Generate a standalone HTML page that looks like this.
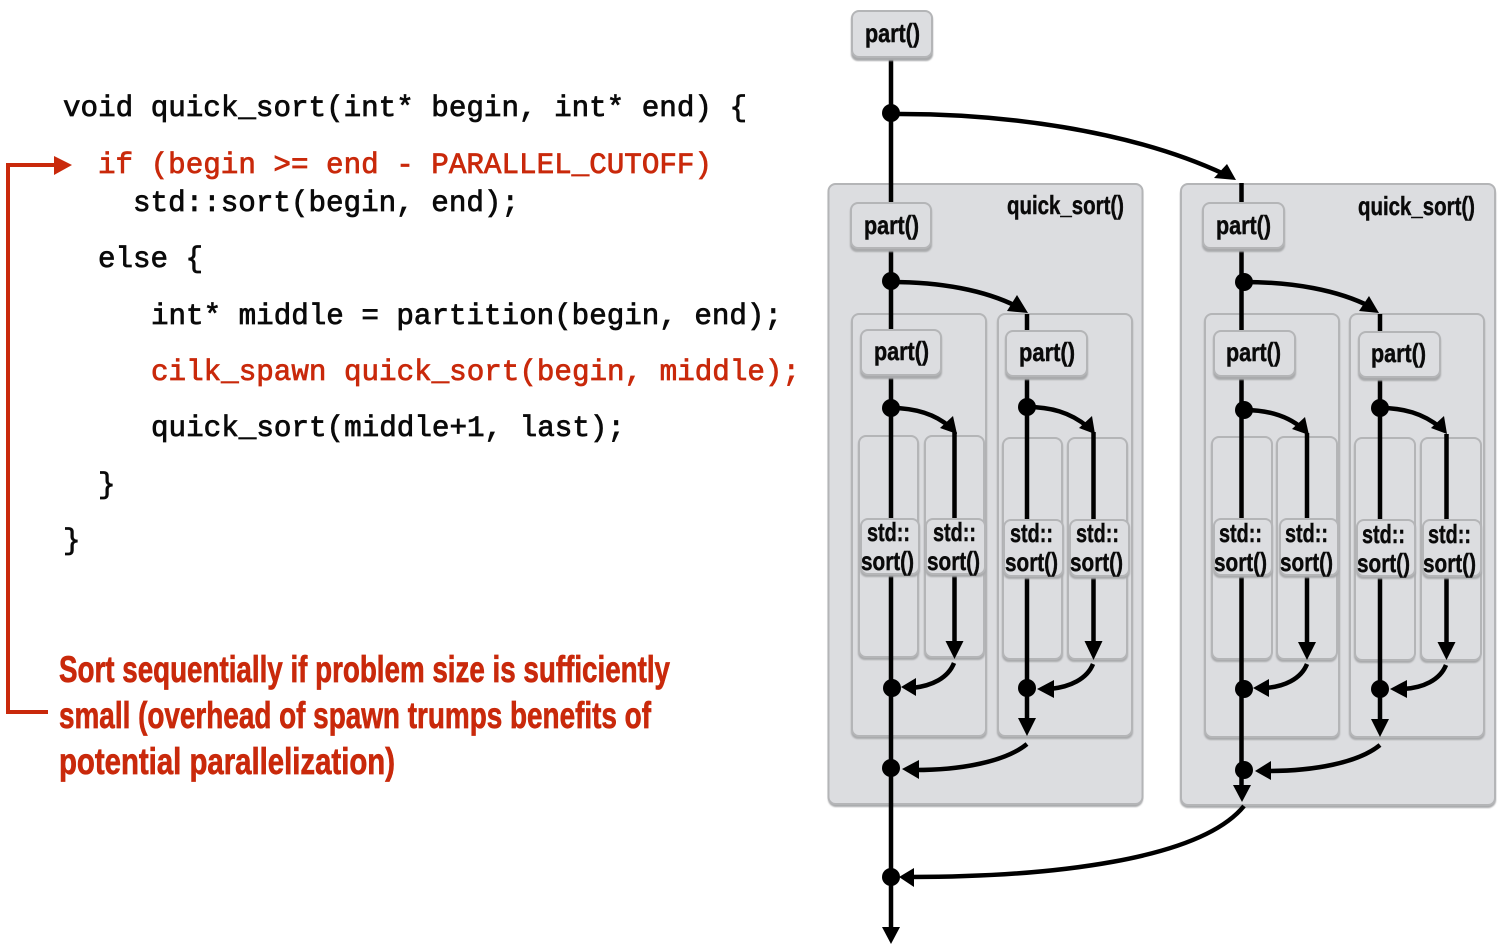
<!DOCTYPE html>
<html><head><meta charset="utf-8"><style>
html,body{margin:0;padding:0;background:#fff}
svg{display:block}
.c{font-family:"Liberation Mono",monospace;font-size:29.2px;fill:#0a0a0a;stroke:#0a0a0a;stroke-width:.75px}
.r{fill:#c9290b;stroke:#c9290b}
.n{font-family:"Liberation Sans",sans-serif;font-weight:bold;font-size:26px;fill:#0a0a0a;stroke:#0a0a0a;stroke-width:.45px}
.t{font-family:"Liberation Sans",sans-serif;font-weight:bold;font-size:37px;fill:#c9290b;stroke:#c9290b;stroke-width:.7px}
.o{fill:#dcdde0;stroke:#b4b5b7;stroke-width:2}
.s{fill:#a9aaac;filter:blur(.8px)}
.l{fill:none;stroke:#000;stroke-width:4.5}
</style></head><body>
<svg width="1501" height="951" viewBox="0 0 1501 951" xmlns="http://www.w3.org/2000/svg">
<text class="c" x="63" y="116" textLength="684" lengthAdjust="spacingAndGlyphs">void quick_sort(int* begin, int* end) {</text>
<text class="c r" x="98" y="173" textLength="614" lengthAdjust="spacingAndGlyphs">if (begin &gt;= end - PARALLEL_CUTOFF)</text>
<text class="c" x="133" y="211" textLength="386" lengthAdjust="spacingAndGlyphs">std::sort(begin, end);</text>
<text class="c" x="98" y="267" textLength="105" lengthAdjust="spacingAndGlyphs">else {</text>
<text class="c" x="151" y="324" textLength="631" lengthAdjust="spacingAndGlyphs">int* middle = partition(begin, end);</text>
<text class="c r" x="151" y="380" textLength="649" lengthAdjust="spacingAndGlyphs">cilk_spawn quick_sort(begin, middle);</text>
<text class="c" x="151" y="436" textLength="474" lengthAdjust="spacingAndGlyphs">quick_sort(middle+1, last);</text>
<text class="c" x="98" y="493">}</text>
<text class="c" x="63" y="549">}</text>

<polyline points="48,712 8,712 8,165 56,165" fill="none" stroke="#c9290b" stroke-width="4"/>
<polygon points="72,165 54,156 54,175" fill="#c9290b"/>
<text class="t" x="59" y="682" textLength="611" lengthAdjust="spacingAndGlyphs">Sort sequentially if problem size is sufficiently</text>
<text class="t" x="59" y="728" textLength="592" lengthAdjust="spacingAndGlyphs">small (overhead of spawn trumps benefits of</text>
<text class="t" x="59" y="774" textLength="336" lengthAdjust="spacingAndGlyphs">potential parallelization)</text>

<!-- containers left -->
<rect class="s" x="828" y="186" width="315" height="621" rx="8"/><rect class="o" x="828.5" y="184" width="314" height="620" rx="7"/>
<rect class="s" x="851" y="316" width="136" height="423" rx="7"/><rect class="o" x="852" y="314" width="134" height="422" rx="7"/>
<rect class="s" x="997" y="316" width="136" height="423" rx="7"/><rect class="o" x="998" y="314" width="134" height="422" rx="7"/>
<rect class="s" x="858" y="438" width="61" height="222" rx="7"/><rect class="o" x="859" y="436" width="59" height="221" rx="7"/>
<rect class="s" x="924" y="438" width="61" height="222" rx="7"/><rect class="o" x="925" y="436" width="59" height="221" rx="7"/>
<rect class="s" x="1002" y="440" width="61" height="222" rx="7"/><rect class="o" x="1003" y="438" width="59" height="221" rx="7"/>
<rect class="s" x="1067" y="440" width="61" height="222" rx="7"/><rect class="o" x="1068" y="438" width="59" height="221" rx="7"/>
<!-- containers right -->
<rect class="s" x="1180" y="186" width="316" height="622" rx="8"/><rect class="o" x="1181" y="184" width="314" height="621" rx="7"/>
<rect class="s" x="1204" y="316" width="136" height="424" rx="7"/><rect class="o" x="1205" y="314" width="134" height="423" rx="7"/>
<rect class="s" x="1349" y="316" width="136" height="424" rx="7"/><rect class="o" x="1350" y="314" width="134" height="423" rx="7"/>
<rect class="s" x="1211" y="439" width="61" height="223" rx="7"/><rect class="o" x="1212" y="437" width="60" height="222" rx="7"/>
<rect class="s" x="1276" y="439" width="61" height="223" rx="7"/><rect class="o" x="1277" y="437" width="60" height="222" rx="7"/>
<rect class="s" x="1354" y="440" width="61" height="223" rx="7"/><rect class="o" x="1355" y="438" width="60" height="222" rx="7"/>
<rect class="s" x="1420" y="440" width="61" height="223" rx="7"/><rect class="o" x="1421" y="438" width="60" height="222" rx="7"/>

<!-- straight lines -->
<g class="l">
<path d="M891 59V930M954.5 432V645M1027 314V722M1093.5 432V645"/>
<path d="M1241.5 183V788M1307 433V645M1380 314V722M1446.5 434V645"/>
<!-- curves -->
<path d="M891 114C1000 113 1130 130 1224 174"/>
<path d="M891 282C940 282 985 290 1018 307"/>
<path d="M891 408C915 408 935 414 950 427"/>
<path d="M1027 407C1050 407 1070 412 1088 427"/>
<path d="M954 663C948 678 932 686 912 688"/>
<path d="M1093 664C1087 679 1070 687 1050 689"/>
<path d="M1027 744C1005 762 960 770 915 770"/>
<path d="M1244 806C1200 860 1050 877 910 877"/>
<path d="M1244 282C1293 282 1338 290 1371 307"/>
<path d="M1244 410C1268 410 1288 416 1303 429"/>
<path d="M1380 408C1403 408 1423 413 1441 428"/>
<path d="M1307 664C1301 679 1284 687 1264 688"/>
<path d="M1446 665C1440 680 1423 688 1403 689"/>
<path d="M1380 745C1358 763 1313 771 1268 771"/>
</g>
<!-- arrowheads -->
<g fill="#000">
<polygon points="1236,180 1227,164 1214,178"/>
<polygon points="1028,313 1017,295 1007,311"/>
<polygon points="957,434 953,416 940,428"/>
<polygon points="1095,434 1092,416 1079,428"/>
<polygon points="954.5,659 945.5,641 963.5,641"/>
<polygon points="1093.5,660 1084.5,641 1102.5,641"/>
<polygon points="1027,736 1018,718 1036,718"/>
<polygon points="901,687 916,678 916,696"/>
<polygon points="1037,689 1054,680 1054,698"/>
<polygon points="902,769 919,760 919,779"/>
<polygon points="899,877 914,868 914,887"/>
<polygon points="891,944 882,927 900,927"/>
<polygon points="1379,313 1369,296 1359,311"/>
<polygon points="1309,435 1305,417 1292,429"/>
<polygon points="1447,434 1444,416 1431,428"/>
<polygon points="1307,660 1298,642 1316,642"/>
<polygon points="1446.5,660 1437.5,642 1455.5,642"/>
<polygon points="1380,737 1371,719 1389,719"/>
<polygon points="1242,802 1233,785 1251,785"/>
<polygon points="1253,688 1269,679 1269,697"/>
<polygon points="1390,689 1407,680 1407,698"/>
<polygon points="1255,771 1271,761 1271,780"/>
<circle cx="891" cy="113" r="9"/><circle cx="891" cy="281" r="9"/><circle cx="891" cy="408" r="9"/>
<circle cx="892" cy="688" r="9"/><circle cx="891" cy="768" r="9"/><circle cx="891" cy="877" r="9"/>
<circle cx="1027" cy="407" r="9"/><circle cx="1027" cy="688" r="9"/>
<circle cx="1244" cy="282" r="9"/><circle cx="1244" cy="410" r="9"/><circle cx="1244" cy="689" r="9"/><circle cx="1244" cy="770" r="9"/>
<circle cx="1380" cy="408" r="9"/><circle cx="1380" cy="689" r="9"/>
</g>

<!-- part boxes -->
<rect class="s" x="851" y="13" width="82" height="48" rx="7"/><rect class="o" x="852" y="11" width="80" height="46" rx="7"/>
<rect class="s" x="850" y="205" width="82" height="47" rx="7"/><rect class="o" x="851" y="203" width="80" height="45" rx="7"/>
<rect class="s" x="860" y="332" width="82" height="47" rx="7"/><rect class="o" x="861" y="330" width="80" height="45" rx="7"/>
<rect class="s" x="1005" y="333" width="83" height="47" rx="7"/><rect class="o" x="1006" y="331" width="81" height="45" rx="7"/>
<rect class="s" x="1202" y="205" width="83" height="47" rx="7"/><rect class="o" x="1203" y="203" width="81" height="45" rx="7"/>
<rect class="s" x="1213" y="333" width="83" height="47" rx="7"/><rect class="o" x="1214" y="331" width="81" height="45" rx="7"/>
<rect class="s" x="1358" y="334" width="83" height="47" rx="7"/><rect class="o" x="1359" y="332" width="81" height="45" rx="7"/>
<!-- sort boxes -->
<rect class="s" x="860" y="521" width="60" height="56" rx="7"/><rect class="o" x="861" y="519" width="58" height="55" rx="7"/>
<rect class="s" x="925" y="521" width="61" height="56" rx="7"/><rect class="o" x="926" y="519" width="59" height="55" rx="7"/>
<rect class="s" x="1003" y="522" width="61" height="57" rx="7"/><rect class="o" x="1004" y="520" width="59" height="56" rx="7"/>
<rect class="s" x="1069" y="522" width="61" height="57" rx="7"/><rect class="o" x="1070" y="520" width="59" height="56" rx="7"/>
<rect class="s" x="1213" y="521" width="60" height="57" rx="7"/><rect class="o" x="1214" y="519" width="58" height="56" rx="7"/>
<rect class="s" x="1279" y="521" width="60" height="57" rx="7"/><rect class="o" x="1280" y="519" width="58" height="56" rx="7"/>
<rect class="s" x="1356" y="522" width="60" height="57" rx="7"/><rect class="o" x="1357" y="520" width="58" height="56" rx="7"/>
<rect class="s" x="1422" y="522" width="60" height="57" rx="7"/><rect class="o" x="1423" y="520" width="58" height="56" rx="7"/>

<!-- labels -->
<text class="n" x="865" y="42" textLength="55" lengthAdjust="spacingAndGlyphs">part()</text>
<text class="n" x="864" y="234" textLength="55" lengthAdjust="spacingAndGlyphs">part()</text>
<text class="n" x="874" y="360" textLength="55" lengthAdjust="spacingAndGlyphs">part()</text>
<text class="n" x="1019" y="361" textLength="56" lengthAdjust="spacingAndGlyphs">part()</text>
<text class="n" x="1216" y="234" textLength="55" lengthAdjust="spacingAndGlyphs">part()</text>
<text class="n" x="1226" y="361" textLength="55" lengthAdjust="spacingAndGlyphs">part()</text>
<text class="n" x="1371" y="362" textLength="55" lengthAdjust="spacingAndGlyphs">part()</text>
<text class="n" x="1007" y="214" textLength="117" lengthAdjust="spacingAndGlyphs">quick_sort()</text>
<text class="n" x="1358" y="215" textLength="117" lengthAdjust="spacingAndGlyphs">quick_sort()</text>
<text class="n" x="867" y="541" textLength="43" lengthAdjust="spacingAndGlyphs">std::</text>
<text class="n" x="861" y="570" textLength="53" lengthAdjust="spacingAndGlyphs">sort()</text>
<text class="n" x="933" y="541" textLength="43" lengthAdjust="spacingAndGlyphs">std::</text>
<text class="n" x="927" y="570" textLength="53" lengthAdjust="spacingAndGlyphs">sort()</text>
<text class="n" x="1010" y="542" textLength="43" lengthAdjust="spacingAndGlyphs">std::</text>
<text class="n" x="1005" y="571" textLength="53" lengthAdjust="spacingAndGlyphs">sort()</text>
<text class="n" x="1076" y="542" textLength="43" lengthAdjust="spacingAndGlyphs">std::</text>
<text class="n" x="1070" y="571" textLength="53" lengthAdjust="spacingAndGlyphs">sort()</text>
<text class="n" x="1219" y="542" textLength="43" lengthAdjust="spacingAndGlyphs">std::</text>
<text class="n" x="1214" y="571" textLength="53" lengthAdjust="spacingAndGlyphs">sort()</text>
<text class="n" x="1285" y="542" textLength="43" lengthAdjust="spacingAndGlyphs">std::</text>
<text class="n" x="1280" y="571" textLength="53" lengthAdjust="spacingAndGlyphs">sort()</text>
<text class="n" x="1362" y="543" textLength="43" lengthAdjust="spacingAndGlyphs">std::</text>
<text class="n" x="1357" y="572" textLength="53" lengthAdjust="spacingAndGlyphs">sort()</text>
<text class="n" x="1428" y="543" textLength="43" lengthAdjust="spacingAndGlyphs">std::</text>
<text class="n" x="1423" y="572" textLength="53" lengthAdjust="spacingAndGlyphs">sort()</text>
</svg>
</body></html>
